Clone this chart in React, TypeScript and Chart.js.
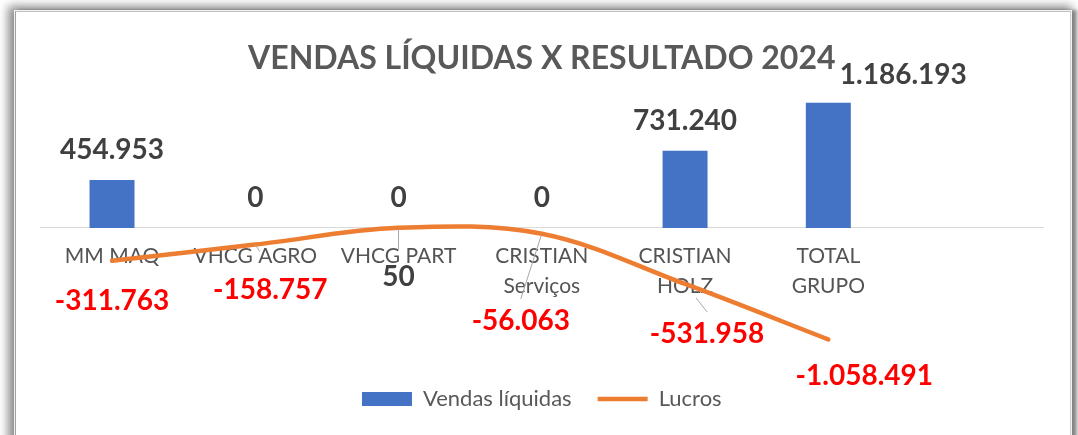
import React, { useEffect, useRef } from 'react';
import { Chart, registerables } from 'chart.js';

Chart.register(...registerables);

// ---- data ----
const chartTitle = 'VENDAS LÍQUIDAS X RESULTADO 2024';
const categories: (string | string[])[] = [
  'MM MAQ',
  'VHCG AGRO',
  'VHCG PART',
  ['CRISTIAN', 'Serviços'],
  ['CRISTIAN', 'HOLZ'],
  ['TOTAL', 'GRUPO'],
  '',
];
const seriesNames = ['Vendas líquidas', 'Lucros'];
const vendasLiquidas: (number | null)[] = [454953, 0, 0, 0, 731240, 1186193, null];
const lucros: (number | null)[] = [-311763, -158757, 50, -56063, -531958, -1058491, null];

// ---- label placement (style, relative to each mark) ----
const barLabelShift: number[][] = [[0, -30], [0, -30], [0, -30], [0, -30], [0, -30], [75, -27.5]];
const lineLabelShift: number[][] = [[0, 40], [15, 45], [0, 49], [-21, 87], [22, 50], [36, 37]];
const leaderSpan: (number[] | null)[] = [null, [0, 0.3], [0.04, 0.8], [0.03, 1], [0.5, 1], null];

const FONT = 'Lato, "Open Sans", sans-serif';

function fmt(v: number): string {
  const s = Math.abs(Math.round(v)).toString().replace(/\B(?=(\d{3})+(?!\d))/g, '.');
  return (v < 0 ? '-' : '') + s;
}

const valueLabels = {
  id: 'valueLabels',
  afterDatasetsDraw(chart: any) {
    const ctx = chart.ctx as CanvasRenderingContext2D;
    ctx.save();
    ctx.font = `bold 28px ${FONT}`;
    ctx.textAlign = 'center';
    ctx.textBaseline = 'middle';
    const barMeta = chart.getDatasetMeta(0);
    barMeta.data.forEach((el: any, i: number) => {
      const v = vendasLiquidas[i];
      if (v == null) return;
      const [dx, dy] = barLabelShift[i];
      ctx.fillStyle = '#404040';
      ctx.fillText(fmt(v), el.x + dx, el.y + dy);
    });
    const lineMeta = chart.getDatasetMeta(1);
    lineMeta.data.forEach((pt: any, i: number) => {
      const v = lucros[i];
      if (v == null) return;
      const [dx, dy] = lineLabelShift[i];
      const lx = pt.x + dx;
      const ly = pt.y + dy;
      const span = leaderSpan[i];
      if (span) {
        const ax = lx;
        const ay = ly - 22;
        ctx.beginPath();
        ctx.strokeStyle = '#a6a6a6';
        ctx.lineWidth = 1;
        ctx.moveTo(pt.x + (ax - pt.x) * span[0], pt.y + (ay - pt.y) * span[0]);
        ctx.lineTo(pt.x + (ax - pt.x) * span[1], pt.y + (ay - pt.y) * span[1]);
        ctx.stroke();
      }
      ctx.fillStyle = v < 0 ? '#ff0000' : '#404040';
      ctx.fillText(fmt(v), lx, ly);
    });
    ctx.restore();
  },
};

export default function App() {
  const canvasRef = useRef<HTMLCanvasElement | null>(null);

  useEffect(() => {
    if (!canvasRef.current) return;
    const chart = new Chart(canvasRef.current, {
      type: 'bar',
      data: {
        labels: categories,
        datasets: [
          {
            type: 'bar',
            label: seriesNames[0],
            data: vendasLiquidas,
            backgroundColor: '#4472c4',
            borderWidth: 0,
            categoryPercentage: 1,
            barPercentage: 0.314,
            pointStyle: 'rect',
            order: 2,
          } as any,
          {
            type: 'line',
            label: seriesNames[1],
            data: lucros,
            borderColor: '#ed7d31',
            backgroundColor: '#ed7d31',
            borderWidth: 4.5,
            tension: 0.35,
            pointRadius: 0,
            pointHoverRadius: 0,
            pointStyle: 'line',
            borderCapStyle: 'round',
            fill: false,
            order: 1,
          } as any,
        ],
      },
      options: {
        responsive: false,
        devicePixelRatio: 1,
        animation: false,
        layout: { padding: { left: 40.4, right: 34.8, top: 10, bottom: 15 } },
        scales: {
          x: {
            position: { y: 0 } as any,
            grid: { display: false, drawTicks: false },
            border: { display: true, color: '#d9d9d9', width: 1 },
            ticks: {
              autoSkip: false,
              maxRotation: 0,
              minRotation: 0,
              padding: 13,
              color: '#545454',
              font: { family: FONT, size: 21, lineHeight: 1.43 },
            },
          },
          y: {
            display: false,
            min: -1272700,
            max: 1333000,
          },
        },
        plugins: {
          title: {
            display: true,
            text: chartTitle,
            color: '#595959',
            font: { family: FONT, size: 32, weight: 'bold', lineHeight: 1.2 },
            padding: { top: 29, bottom: 10 },
          },
          legend: {
            display: true,
            position: 'bottom',
            labels: {
              usePointStyle: true,
              pointStyleWidth: 50,
              boxHeight: 14,
              padding: 26,
              color: '#595959',
              font: { family: FONT, size: 22 },
              sort: (a: any, b: any) => a.datasetIndex - b.datasetIndex,
            },
          },
          tooltip: { enabled: false },
        },
      },
      plugins: [valueLabels],
    });
    return () => chart.destroy();
  }, []);

  return (
    <div
      style={{
        position: 'fixed',
        left: 0,
        top: 0,
        width: 1078,
        height: 435,
        overflow: 'hidden',
        background: '#ffffff',
      }}
    >
      <div
        style={{
          position: 'absolute',
          left: 15,
          top: 11,
          width: 1054,
          height: 470,
          borderLeft: '1px solid #a0a0a0',
          borderTop: '1px solid #c0c0c0',
          borderRight: '1px solid #d0d0d0',
          boxShadow:
            '0 0 0 1px #f2f2f2, -3px -1px 9px 4px rgba(0,0,0,0.45), 5px 0 3px 1px rgba(0,0,0,0.35)',
          background: '#ffffff',
        }}
      />
      <canvas
        ref={canvasRef}
        width={1078}
        height={435}
        style={{ position: 'absolute', left: 0, top: 0 }}
      />
    </div>
  );
}
